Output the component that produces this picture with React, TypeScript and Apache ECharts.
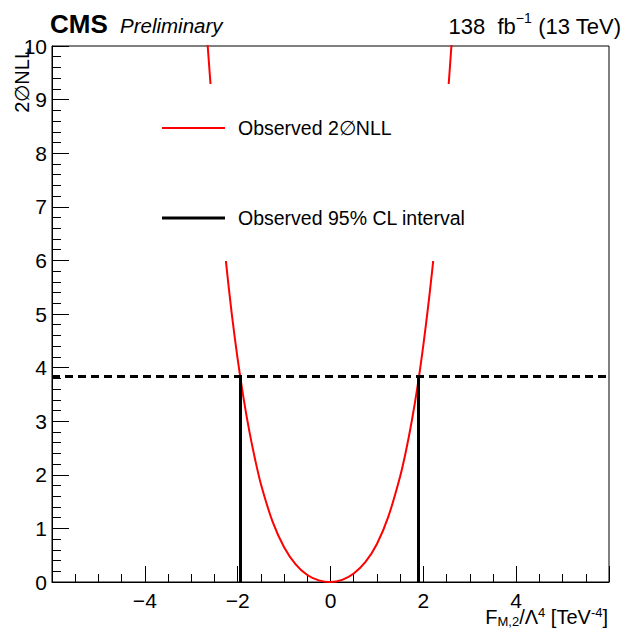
import React, { useEffect, useRef } from "react";
import * as echarts from "echarts";

// Likelihood scan
const scanX = [-2.65, -2.5, -2.375, -2.25, -2.125, -2.0, -1.875, -1.75, -1.625, -1.5, -1.25, -1.0, -0.75, -0.5, -0.25, 0, 0.25, 0.5, 0.75, 1.0, 1.25, 1.5, 1.625, 1.75, 1.875, 2.0, 2.125, 2.25, 2.375, 2.5, 2.65];
const scanY = [10.05, 8.32, 7.07, 5.96, 4.99, 4.16, 3.44, 2.82, 2.29, 1.83, 1.13, 0.65, 0.33, 0.13, 0.03, 0.0, 0.04, 0.16, 0.37, 0.71, 1.23, 1.97, 2.44, 3.0, 3.65, 4.42, 5.3, 6.3, 7.45, 8.75, 10.55];

// 95% CL interval and threshold
const lowerLimit = -1.94;
const upperLimit = 1.9;
const threshold = 3.84;

const xTicks = { min: -6, max: 6, interval: 2 };
const yTicks = { min: 0, max: 10, interval: 1 };

const legendLabels = ["Observed 2\u2205NLL", "Observed 95% CL interval"];

const FONT = "'Liberation Sans', Arial, Helvetica, sans-serif";

export default function App() {
  const ref = useRef<HTMLDivElement>(null);
  useEffect(() => {
    if (!ref.current) return;
    const chart = echarts.init(ref.current, null, { renderer: "svg" });
    const minus = (v: number) => String(v).replace("-", "\u2212");
    chart.setOption({
      animation: false,
      backgroundColor: "#ffffff",
      grid: {
        left: 52,
        right: 17,
        top: 46,
        bottom: 51,
        show: true,
        borderColor: "#000",
        borderWidth: 1,
        backgroundColor: "transparent",
      },
      xAxis: {
        type: "value",
        min: xTicks.min,
        max: xTicks.max,
        interval: xTicks.interval,
        axisLine: { show: true, onZero: false, lineStyle: { color: "#000", width: 1 } },
        axisTick: { show: true, inside: true, length: 16, lineStyle: { color: "#000" } },
        minorTick: { show: true, splitNumber: 4, length: 8, lineStyle: { color: "#000" } },
        splitLine: { show: false },
        axisLabel: {
          color: "#000",
          fontFamily: FONT,
          fontSize: 21,
          margin: 8,
          formatter: (v: number) => (v === -6 || v === 6 ? "" : minus(v)),
        },
      },
      yAxis: {
        type: "value",
        min: yTicks.min,
        max: yTicks.max,
        interval: yTicks.interval,
        axisLine: { show: true, onZero: false, lineStyle: { color: "#000", width: 1 } },
        axisTick: { show: true, inside: true, length: 17, lineStyle: { color: "#000" } },
        minorTick: { show: true, splitNumber: 5, length: 9, lineStyle: { color: "#000" } },
        splitLine: { show: false },
        axisLabel: {
          color: "#000",
          fontFamily: FONT,
          fontSize: 21,
          margin: 5,
        },
      },
      series: [
        {
          type: "line",
          name: legendLabels[0],
          data: scanX.map((x, i) => [x, scanY[i]]),
          smooth: 0.3,
          showSymbol: false,
          lineStyle: { color: "#ff0000", width: 2 },
          z: 3,
        },
        {
          type: "line",
          name: legendLabels[1],
          data: [],
          markLine: {
            silent: true,
            symbol: "none",
            label: { show: false },
            data: [
              [
                { coord: [lowerLimit, 0], lineStyle: { color: "#000", width: 3, type: "solid" } },
                { coord: [lowerLimit, threshold] },
              ],
              [
                { coord: [upperLimit, 0], lineStyle: { color: "#000", width: 3, type: "solid" } },
                { coord: [upperLimit, threshold] },
              ],
              [
                { coord: [xTicks.min, threshold], lineStyle: { color: "#000", width: 3, type: [8, 5] } },
                { coord: [xTicks.max, threshold] },
              ],
            ],
          },
          z: 4,
        },
      ],
      graphic: [
        // legend box (white fill hides the scan behind it)
        { type: "rect", z: 100, shape: { x: 140, y: 84, width: 345, height: 177 }, style: { fill: "#fff" } },
        { type: "line", z: 101, shape: { x1: 162, y1: 128, x2: 225, y2: 128 }, style: { stroke: "#ff0000", lineWidth: 2 } },
        { type: "line", z: 101, shape: { x1: 162, y1: 218, x2: 225, y2: 218 }, style: { stroke: "#000", lineWidth: 3 } },
        {
          type: "text", z: 101, x: 238, y: 128,
          style: { text: legendLabels[0], font: `19.5px ${FONT}`, fill: "#000", verticalAlign: "middle", align: "left" },
        },
        {
          type: "text", z: 101, x: 238, y: 218,
          style: { text: legendLabels[1], font: `19.5px ${FONT}`, fill: "#000", verticalAlign: "middle", align: "left" },
        },
        // header
        {
          type: "text", z: 101, x: 50, y: 24,
          style: { text: "CMS", font: `bold 26px ${FONT}`, fill: "#000", verticalAlign: "middle", align: "left" },
        },
        {
          type: "text", z: 101, x: 120, y: 25,
          style: { text: "Preliminary", font: `italic 20.5px ${FONT}`, fill: "#000", verticalAlign: "middle", align: "left" },
        },
        {
          type: "text", z: 101, x: 621, y: 24,
          style: {
            text: "{a|138  fb}{s|\u22121}{a| (13 TeV)}",
            align: "right",
            verticalAlign: "middle",
            rich: {
              a: { font: `22px ${FONT}`, fill: "#000", lineHeight: 26, verticalAlign: "bottom" },
              s: { font: `14px ${FONT}`, fill: "#000", lineHeight: 26, verticalAlign: "top", padding: [0, 0, 8, 0] },
            },
          },
        },
        // y axis title
        {
          type: "text", z: 101, x: 22, y: 48, rotation: Math.PI / 2,
          style: { text: legendLabels[0].replace("Observed ", ""), font: `20px ${FONT}`, fill: "#000", align: "right", verticalAlign: "middle" },
        },
        // x axis title
        {
          type: "text", z: 101, x: 608, y: 617,
          style: {
            text: "{a|F}{b|M,2}{a|/\u039b}{c|4}{a| [TeV}{c|-4}{a|]}",
            align: "right",
            verticalAlign: "middle",
            rich: {
              a: { font: `20px ${FONT}`, fill: "#000", lineHeight: 22, verticalAlign: "middle" },
              b: { font: `13px ${FONT}`, fill: "#000", lineHeight: 13, verticalAlign: "bottom", padding: [14, 0, 0, 0] },
              c: { font: `13px ${FONT}`, fill: "#000", lineHeight: 13, verticalAlign: "top", padding: [0, 0, 12, 0] },
            },
          },
        },
      ],
    });
    return () => chart.dispose();
  }, []);
  return <div ref={ref} style={{ position: "fixed", left: 0, top: 0, width: 626, height: 633 }} />;
}
